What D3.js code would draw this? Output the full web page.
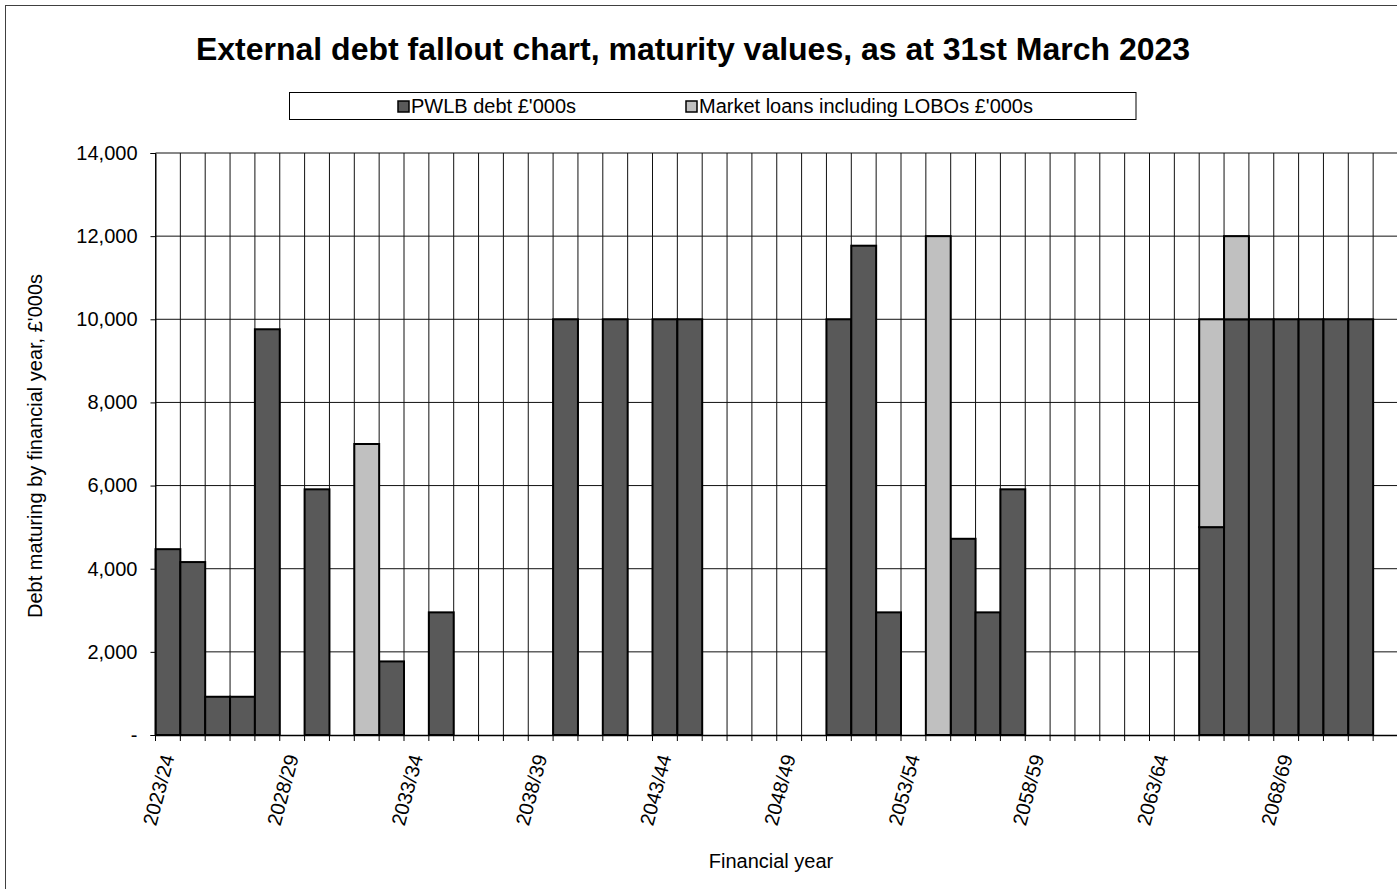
<!DOCTYPE html>
<html>
<head>
<meta charset="utf-8">
<script src="https://cdn.jsdelivr.net/npm/d3@7"></script>
<style>
  body { margin: 0; background: #fff; }
  svg { display: block; font-family: "Liberation Sans", Arial, sans-serif; }
</style>
</head>
<body>
<svg id="chart" width="1397" height="889"></svg>
<script>
(function() {

// financial years on the x axis
var years = [
	"2023/24","2024/25","2025/26","2026/27","2027/28","2028/29","2029/30","2030/31","2031/32","2032/33",
	"2033/34","2034/35","2035/36","2036/37","2037/38","2038/39","2039/40","2040/41","2041/42","2042/43",
	"2043/44","2044/45","2045/46","2046/47","2047/48","2048/49","2049/50","2050/51","2051/52","2052/53",
	"2053/54","2054/55","2055/56","2056/57","2057/58","2058/59","2059/60","2060/61","2061/62","2062/63",
	"2063/64","2064/65","2065/66","2066/67","2067/68","2068/69","2069/70","2070/71","2071/72","2072/73"
];

// PWLB debt, £'000s
var pwlb = [
	4470, 4160, 920, 920, 9760, 0, 5910, 0, 0, 1770,
	0, 2950, 0, 0, 0, 0, 10000, 0, 10000, 0,
	10000, 10000, 0, 0, 0, 0, 0, 10000, 11770, 2950,
	0, 0, 4720, 2950, 5910, 0, 0, 0, 0, 0,
	0, 0, 5000, 10000, 10000, 10000, 10000, 10000, 10000, 0
];

// market loans including LOBOs, £'000s
var market = [
	0, 0, 0, 0, 0, 0, 0, 0, 7000, 0,
	0, 0, 0, 0, 0, 0, 0, 0, 0, 0,
	0, 0, 0, 0, 0, 0, 0, 0, 0, 0,
	0, 12000, 0, 0, 0, 0, 0, 0, 0, 0,
	0, 0, 5000, 2000, 0, 0, 0, 0, 0, 0
];

var seriesNames = ["PWLB debt £'000s", "Market loans including LOBOs £'000s"];
var seriesKeys = ["pwlb", "market"];
var seriesColors = ["#595959", "#c0c0c0"];
var yTicks = [0, 2000, 4000, 6000, 8000, 10000, 12000, 14000];

var svg = d3.select("#chart");
var plotLeft = 155.5, plotRight = 1398, plotTop = 153, plotBottom = 735;

// outer chart border (right side is cropped in the original)
svg.append("rect")
	.attr("x", 5.5).attr("y", 5.5)
	.attr("width", 1600).attr("height", 1000)
	.attr("fill", "none").attr("stroke", "#404040").attr("stroke-width", 1);

svg.append("text")
	.attr("x", 693).attr("y", 60)
	.attr("text-anchor", "middle")
	.attr("font-size", 32).attr("font-weight", "bold")
	.text("External debt fallout chart, maturity values, as at 31st March 2023");

var x = d3.scaleBand().domain(years).range([plotLeft, plotRight]).paddingInner(0).paddingOuter(0);
var y = d3.scaleLinear().domain([0, 14000]).range([plotBottom, plotTop]);

var rows = years.map(function(d, i) { return { year: d, pwlb: pwlb[i], market: market[i] }; });
var stacked = d3.stack().keys(seriesKeys)(rows);

// gridlines
var grid = svg.append("g").attr("class", "grid");
grid.selectAll("line.h")
	.data(yTicks.slice(1))
	.enter().append("line")
	.attr("class", "h")
	.attr("x1", plotLeft).attr("x2", plotRight)
	.attr("y1", function(d) { return y(d); })
	.attr("y2", function(d) { return y(d); })
	.attr("stroke", "#111").attr("stroke-width", 1);

var edges = years.map(function(d) { return x(d); }).concat([plotRight]);
grid.selectAll("line.v")
	.data(edges)
	.enter().append("line")
	.attr("class", "v")
	.attr("x1", function(d) { return d; }).attr("x2", function(d) { return d; })
	.attr("y1", plotTop).attr("y2", plotBottom)
	.attr("stroke", "#111").attr("stroke-width", 1);

// bars
svg.append("g").selectAll("g")
	.data(stacked)
	.enter().append("g")
	.attr("fill", function(d, i) { return seriesColors[i]; })
	.selectAll("rect")
	.data(function(d) { return d.filter(function(p) { return p[1] - p[0] > 0; }); })
	.enter().append("rect")
	.attr("x", function(d) { return x(d.data.year); })
	.attr("width", x.bandwidth())
	.attr("y", function(d) { return y(d[1]); })
	.attr("height", function(d) { return y(d[0]) - y(d[1]); })
	.attr("stroke", "#000").attr("stroke-width", 2);

// y axis
var yAxis = svg.append("g")
	.attr("transform", "translate(" + plotLeft + ",0)")
	.call(d3.axisLeft(y).tickValues(yTicks).tickSize(5).tickPadding(13)
		.tickFormat(function(d) { return d === 0 ? "-" : d3.format(",")(d); }));
yAxis.select(".domain").attr("stroke", "#000");
yAxis.selectAll("text").attr("font-size", 20).attr("font-family", "Liberation Sans, Arial, sans-serif").attr("fill", "#000");
yAxis.selectAll(".tick line").attr("stroke", "#000");

// x axis: labels every fifth year, ticks on band edges
var xAxis = svg.append("g")
	.attr("transform", "translate(0," + plotBottom + ")")
	.call(d3.axisBottom(x).tickSize(0).tickSizeOuter(0)
		.tickValues(years.filter(function(d, i) { return i % 5 === 0; })));
xAxis.select(".domain").attr("stroke", "#000").attr("stroke-width", 1.5);
xAxis.selectAll("text")
	.attr("font-size", 20).attr("font-family", "Liberation Sans, Arial, sans-serif").attr("fill", "#000")
	.attr("text-anchor", "end")
	.attr("x", 0).attr("y", 0).attr("dy", "0.35em")
	.attr("transform", "translate(0,20) rotate(-75)");

svg.append("g").selectAll("line")
	.data(edges)
	.enter().append("line")
	.attr("x1", function(d) { return d; }).attr("x2", function(d) { return d; })
	.attr("y1", plotBottom).attr("y2", plotBottom + 6)
	.attr("stroke", "#000").attr("stroke-width", 1);

// axis titles
svg.append("text")
	.attr("x", 771).attr("y", 868)
	.attr("text-anchor", "middle").attr("font-size", 20)
	.text("Financial year");

svg.append("text")
	.attr("transform", "translate(41.5,446) rotate(-90)")
	.attr("text-anchor", "middle").attr("font-size", 20)
	.text("Debt maturing by financial year, £'000s");

// legend
var legend = svg.append("g");
legend.append("rect")
	.attr("x", 289.5).attr("y", 92.5)
	.attr("width", 846.5).attr("height", 27)
	.attr("fill", "#fff").attr("stroke", "#000").attr("stroke-width", 1);

var legendX = [411, 699];
var item = legend.selectAll("g.item")
	.data(seriesNames)
	.enter().append("g")
	.attr("class", "item")
	.attr("transform", function(d, i) { return "translate(" + legendX[i] + ",113)"; });
item.append("rect")
	.attr("x", -13).attr("y", -12)
	.attr("width", 11).attr("height", 11)
	.attr("fill", function(d, i) { return seriesColors[i]; })
	.attr("stroke", "#000").attr("stroke-width", 1.5);
item.append("text")
	.attr("font-size", 20)
	.text(function(d) { return d; });

})();
</script>
</body>
</html>
